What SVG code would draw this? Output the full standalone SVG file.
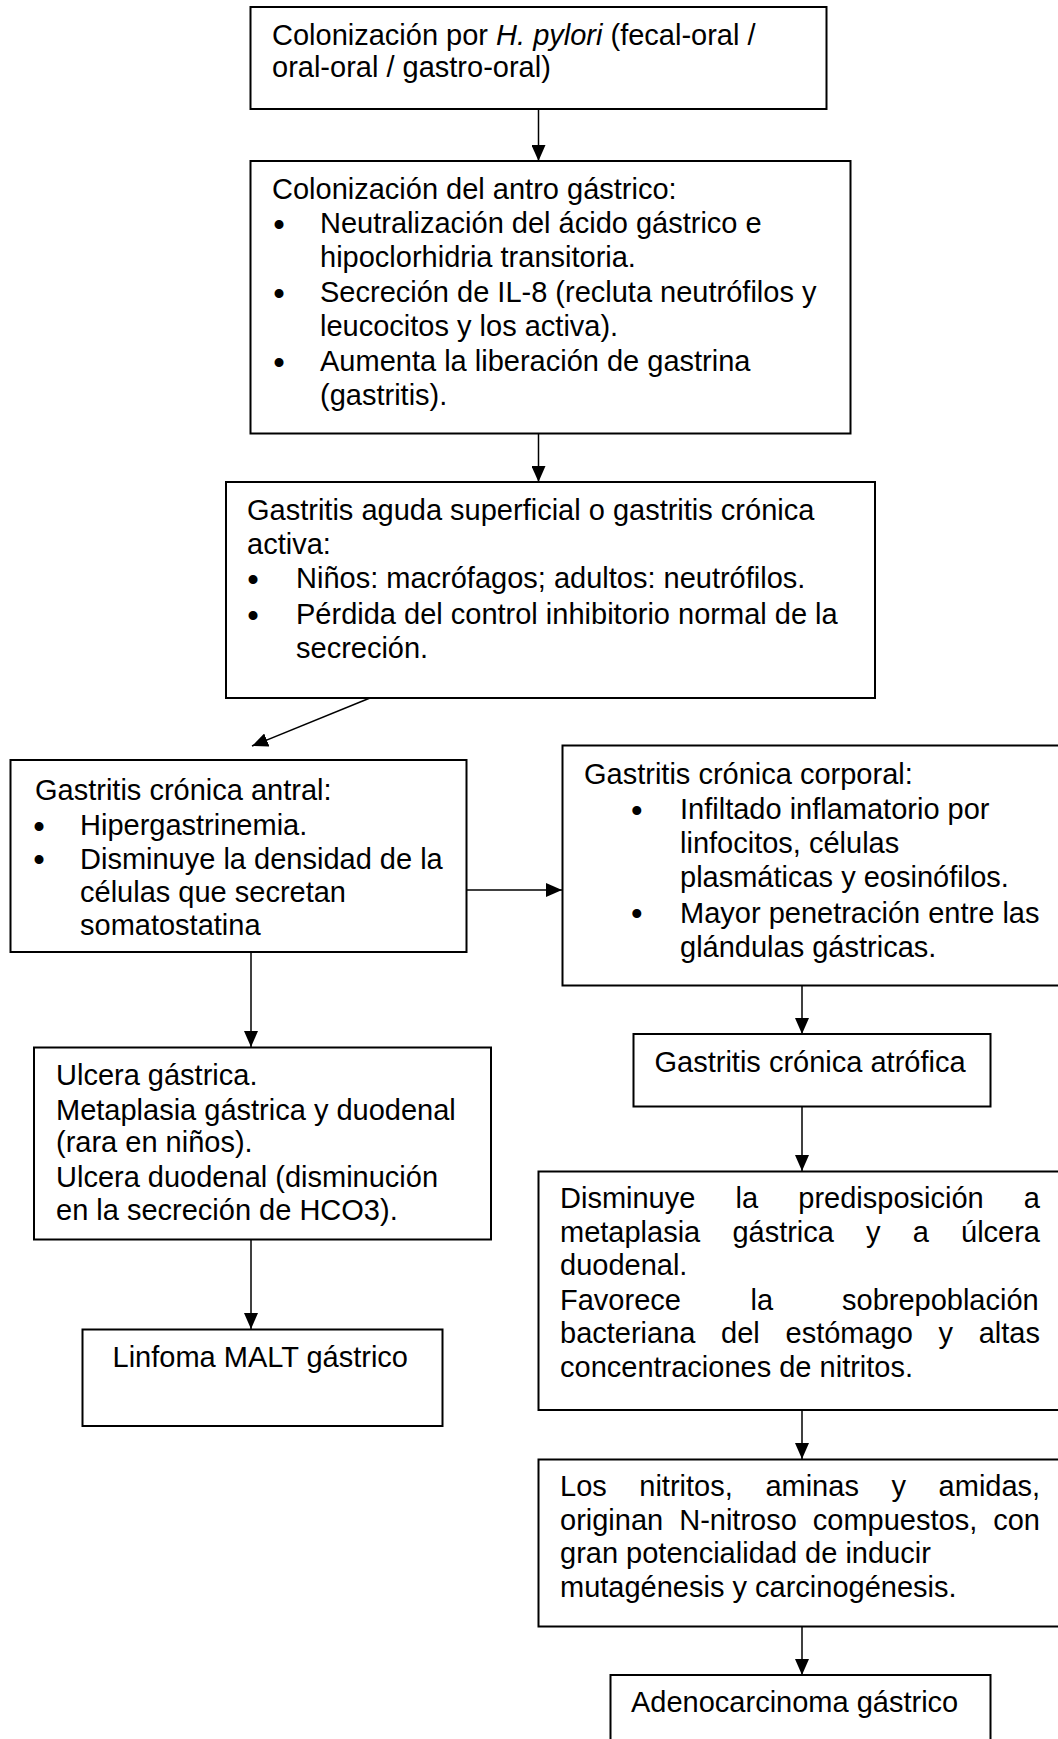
<svg xmlns="http://www.w3.org/2000/svg" width="1058" height="1739" viewBox="0 0 1058 1739">
<style>
.box{fill:#fff;stroke:#000;stroke-width:2}
.t{font-family:"Liberation Sans",Arial,sans-serif;font-size:29px;fill:#000}
.b{font-family:"Liberation Sans",Arial,sans-serif;font-size:33px;fill:#000}
.c{stroke:#000;stroke-width:1.5;fill:none;marker-end:url(#ah)}
</style>
<defs>
<marker id="ah" markerUnits="userSpaceOnUse" markerWidth="16" markerHeight="14" refX="16" refY="7" orient="auto">
<path d="M0,0 L16,7 L0,14 z" fill="#000"/>
</marker>
</defs>
<rect width="1058" height="1739" fill="#fff"/>
<g id="connectors">
<line class="c" x1="538.5" y1="109" x2="538.5" y2="161"/>
<line class="c" x1="538.5" y1="433.5" x2="538.5" y2="482"/>
<line class="c" x1="370" y1="698" x2="252" y2="746"/>
<line class="c" x1="467" y1="890" x2="562" y2="890"/>
<line class="c" x1="251" y1="952" x2="251" y2="1047"/>
<line class="c" x1="251" y1="1239.5" x2="251" y2="1329"/>
<line class="c" x1="802" y1="985.5" x2="802" y2="1034"/>
<line class="c" x1="802" y1="1106.5" x2="802" y2="1171"/>
<line class="c" x1="802" y1="1410" x2="802" y2="1459"/>
<line class="c" x1="802" y1="1626.5" x2="802" y2="1675"/>
</g>
<g id="n1">
<rect class="box" x="250.5" y="7" width="576" height="102"/>
<text class="t" x="272" y="45">Colonización por <tspan font-style="italic">H. pylori</tspan> (fecal-oral /</text>
<text class="t" x="272" y="77">oral-oral / gastro-oral)</text>
</g>
<g id="n2">
<rect class="box" x="250.5" y="161" width="600" height="272.5"/>
<text class="t" x="272" y="199">Colonización del antro gástrico:</text>
<text class="b"><tspan x="273.2" y="235.5">•</tspan><tspan x="273.2" y="304.5">•</tspan><tspan x="273.2" y="373.5">•</tspan></text>
<text class="t" x="320" y="233">Neutralización del ácido gástrico e</text>
<text class="t" x="320" y="267">hipoclorhidria transitoria.</text>
<text class="t" x="320" y="302">Secreción de IL-8 (recluta neutrófilos y</text>
<text class="t" x="320" y="336">leucocitos y los activa).</text>
<text class="t" x="320" y="371">Aumenta la liberación de gastrina</text>
<text class="t" x="320" y="405">(gastritis).</text>
</g>
<g id="n3">
<rect class="box" x="226" y="482" width="649" height="216"/>
<text class="t" x="247" y="519.5">Gastritis aguda superficial o gastritis crónica</text>
<text class="t" x="247" y="553.5">activa:</text>
<text class="b"><tspan x="247.2" y="590.5">•</tspan><tspan x="247.2" y="626.5">•</tspan></text>
<text class="t" x="296" y="588">Niños: macrófagos; adultos: neutrófilos.</text>
<text class="t" x="296" y="624">Pérdida del control inhibitorio normal de la</text>
<text class="t" x="296" y="658">secreción.</text>
</g>
<g id="n4">
<rect class="box" x="10.5" y="760" width="456" height="192"/>
<text class="t" x="35" y="800">Gastritis crónica antral:</text>
<text class="b"><tspan x="33.2" y="837.5">•</tspan><tspan x="33.2" y="871">•</tspan></text>
<text class="t" x="80" y="835">Hipergastrinemia.</text>
<text class="t" x="80" y="868.5">Disminuye la densidad de la</text>
<text class="t" x="80" y="902">células que secretan</text>
<text class="t" x="80" y="935">somatostatina</text>
</g>
<g id="n5">
<rect class="box" x="562.5" y="745.5" width="500" height="240"/>
<text class="t" x="584" y="783.5">Gastritis crónica corporal:</text>
<text class="b"><tspan x="630.9" y="821.5">•</tspan><tspan x="630.9" y="925">•</tspan></text>
<text class="t" x="680" y="819">Infiltado inflamatorio por</text>
<text class="t" x="680" y="853">linfocitos, células</text>
<text class="t" x="680" y="887">plasmáticas y eosinófilos.</text>
<text class="t" x="680" y="922.5">Mayor penetración entre las</text>
<text class="t" x="680" y="956.5">glándulas gástricas.</text>
</g>
<g id="n6">
<rect class="box" x="34" y="1047.5" width="457" height="192"/>
<text class="t" x="56" y="1085">Ulcera gástrica.</text>
<text class="t" x="56" y="1119.5">Metaplasia gástrica y duodenal</text>
<text class="t" x="56" y="1152">(rara en niños).</text>
<text class="t" x="56" y="1186.5">Ulcera duodenal (disminución</text>
<text class="t" x="56" y="1220">en la secreción de HCO3).</text>
</g>
<g id="n7">
<rect class="box" x="82.5" y="1329.5" width="360" height="96.5"/>
<text class="t" x="112.5" y="1366.5">Linfoma MALT gástrico</text>
</g>
<g id="n8">
<rect class="box" x="633.5" y="1034" width="357" height="72.5"/>
<text class="t" x="654.5" y="1071.5">Gastritis crónica atrófica</text>
</g>
<g id="n9">
<rect class="box" x="538.5" y="1171.5" width="530" height="238.5"/>
<text class="t" y="1208"><tspan x="560">Disminuye</tspan><tspan x="735.5">la</tspan><tspan x="798.3">predisposición</tspan><tspan x="1023.8">a</tspan></text>
<text class="t" y="1241.5"><tspan x="560">metaplasia</tspan><tspan x="732.4">gástrica</tspan><tspan x="866.1">y</tspan><tspan x="912.8">a</tspan><tspan x="961">úlcera</tspan></text>
<text class="t" x="560" y="1275">duodenal.</text>
<text class="t" y="1309.5"><tspan x="560">Favorece</tspan><tspan x="750.5">la</tspan><tspan x="842">sobrepoblación</tspan></text>
<text class="t" y="1343"><tspan x="560">bacteriana</tspan><tspan x="721.1">del</tspan><tspan x="785.5">estómago</tspan><tspan x="938.5">y</tspan><tspan x="978.7">altas</tspan></text>
<text class="t" x="560" y="1376.5">concentraciones de nitritos.</text>
</g>
<g id="n10">
<rect class="box" x="538.5" y="1459.5" width="530" height="167"/>
<text class="t" y="1495.5"><tspan x="560">Los</tspan><tspan x="639.3">nitritos,</tspan><tspan x="765.4">aminas</tspan><tspan x="891.5">y</tspan><tspan x="938.6">amidas,</tspan></text>
<text class="t" y="1529.5"><tspan x="560">originan</tspan><tspan x="679.2">N-nitroso</tspan><tspan x="812.8">compuestos,</tspan><tspan x="993.2">con</tspan></text>
<text class="t" x="560" y="1563">gran potencialidad de inducir</text>
<text class="t" x="560" y="1596.5">mutagénesis y carcinogénesis.</text>
</g>
<g id="n11">
<rect class="box" x="610.5" y="1675" width="380" height="100"/>
<text class="t" x="631" y="1711.5">Adenocarcinoma gástrico</text>
</g>
</svg>
